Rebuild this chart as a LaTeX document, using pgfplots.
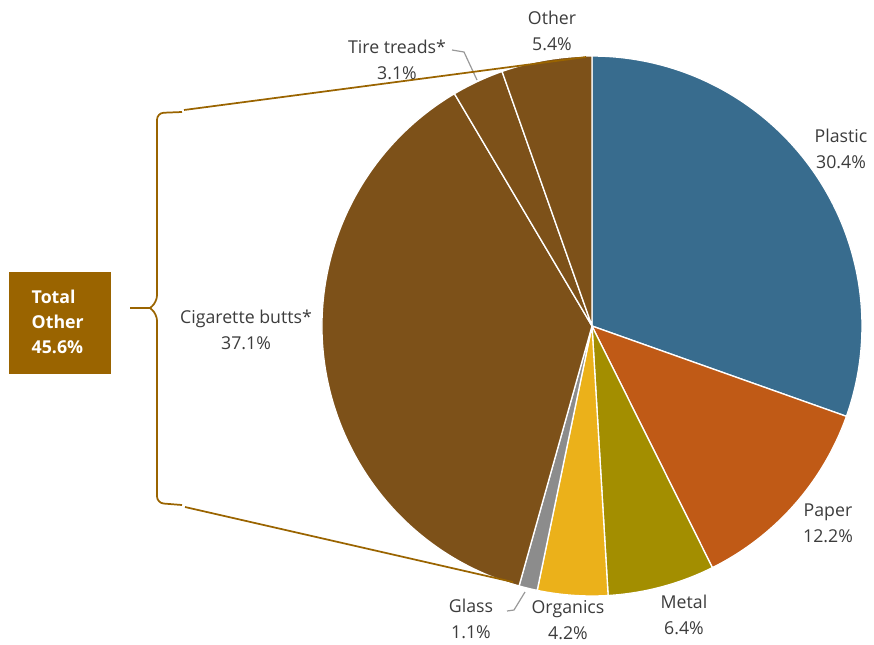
\documentclass[border=0pt]{standalone}
\usepackage{pgfplots}
\pgfplotsset{compat=1.18}
\usepackage{fontspec}
\setmainfont{Open Sans}
\definecolor{cPlastic}{HTML}{386C8E}
\definecolor{cPaper}{HTML}{C05A16}
\definecolor{cMetal}{HTML}{A38E00}
\definecolor{cOrganics}{HTML}{EBB11A}
\definecolor{cGlass}{HTML}{8C8C8C}
\definecolor{cBrown}{HTML}{7D5119}
\definecolor{cBox}{HTML}{9A6400}
\definecolor{cText}{HTML}{3C3C3C}
\tikzset{lbl/.style={font=\fontsize{13.3}{19.5}\selectfont, text=cText, align=center}}
\begin{document}
\begin{tikzpicture}
\begin{axis}[
  width=655.5pt, height=483pt, scale only axis,
  xmin=0, xmax=874, ymin=0, ymax=644, y dir=reverse,
  hide axis, clip=false,
]
% invisible anchor plot (pie centre)
\addplot[draw=none, mark=none] coordinates {(592,326)};
\pgfplotsextra{
  \gdef\cum{0}
  \foreach \v/\c in {30.4/cPlastic, 12.2/cPaper, 6.4/cMetal, 4.2/cOrganics, 1.1/cGlass, 37.1/cBrown, 3.1/cBrown, 5.4/cBrown}{
    \pgfmathsetmacro\a{90-360/99.9*\cum}
    \pgfmathsetmacro\b{90-360/99.9*(\cum+\v)}
    \fill[fill=\c, draw=white, line width=1.0pt, line join=round] (axis cs:592,326) -- ++(\a:202.5pt) arc[start angle=\a, end angle=\b, radius=202.5pt] -- cycle;
    \pgfmathsetmacro\n{\cum+\v}\xdef\cum{\n}
  }
}
% labels
\node[lbl] at (axis cs:552,31) {Other\\5.4\%};
\node[lbl] at (axis cs:397,60) {Tire treads*\\3.1\%};
\node[lbl] at (axis cs:841,149) {Plastic\\30.4\%};
\node[lbl] at (axis cs:246,330) {Cigarette butts*\\37.1\%};
\node[lbl] at (axis cs:828,523) {Paper\\12.2\%};
\node[lbl] at (axis cs:684,615) {Metal\\6.4\%};
\node[lbl] at (axis cs:568,620) {Organics\\4.2\%};
\node[lbl] at (axis cs:471,619) {Glass\\1.1\%};
% leader lines
\draw[gray!80, line width=0.9pt] (axis cs:452,50) -- (axis cs:464,52) -- (axis cs:477,80);
\draw[gray!80, line width=0.9pt] (axis cs:507,611) -- (axis cs:514,610) -- (axis cs:525,592);
% bracket
\draw[cBox, line width=1.3pt, rounded corners=5pt]
  (axis cs:182,112) -- (axis cs:157,113) -- (axis cs:157,302) -- (axis cs:150,308);
\draw[cBox, line width=1.3pt, rounded corners=5pt]
  (axis cs:182,505) -- (axis cs:157,503) -- (axis cs:157,314) -- (axis cs:150,308);
\draw[cBox, line width=1.3pt] (axis cs:150,308) -- (axis cs:130,308);
\draw[cBox, line width=1.3pt] (axis cs:184,110) -- (axis cs:586,57);
\draw[cBox, line width=1.3pt] (axis cs:185,507) -- (axis cs:513,582);
% box
\fill[cBox] (axis cs:9,272) rectangle (axis cs:111,374);
\node[font=\bfseries\fontsize{13.3}{18.75}\selectfont, text=white, align=left, anchor=west] at (axis cs:27,322) {Total\\Other\\45.6\%};
\end{axis}
\pgfresetboundingbox
\useasboundingbox (current axis.south west) rectangle (current axis.north east);
\end{tikzpicture}
\end{document}
